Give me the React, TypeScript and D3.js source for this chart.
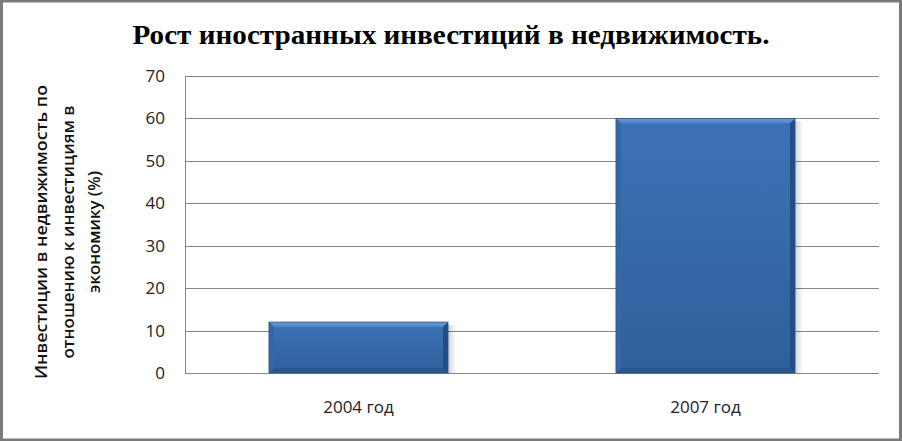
import React from "react";
import * as d3 from "d3";

const categories = ["2004 год", "2007 год"];
const values = [12, 60];
const yTicks = [0, 10, 20, 30, 40, 50, 60, 70];
const title = "Рост иностранных инвестиций в недвижимость.";
const yLabelLines = ["Инвестиции в недвижимость  по", "отношению к инвестициям в", "экономику (%)"];

const W = 902, H = 441;
const plot = { left: 185, right: 879, top: 76, bottom: 373 };

export default function App() {
  const x = d3.scaleBand<string>().domain(categories).range([plot.left, plot.right]).paddingInner(0.484).paddingOuter(0.242);
  const y = d3.scaleLinear().domain([0, 70]).range([plot.bottom, plot.top]);
  const bw = x.bandwidth();
  const bev = 5;
  return (
    <div style={{ position: "fixed", left: 0, top: 0 }}>
      <svg width={W} height={H} style={{ display: "block" }}>
        <defs>
          <linearGradient id="barG" x1="0" y1="0" x2="0" y2="1">
            <stop offset="0" stopColor="#3d73b6" />
            <stop offset="1" stopColor="#2f5f9c" />
          </linearGradient>
          <linearGradient id="topG" x1="0" y1="0" x2="0" y2="1">
            <stop offset="0" stopColor="#6c9de0" />
            <stop offset="1" stopColor="#4b80c4" />
          </linearGradient>
          <linearGradient id="shadowG" x1="0" y1="0" x2="1" y2="0">
            <stop offset="0" stopColor="#000" stopOpacity="0.18" />
            <stop offset="1" stopColor="#000" stopOpacity="0" />
          </linearGradient>
        </defs>
        <rect x={0} y={0} width={W} height={H} fill="#fff" />
        <rect x={1.5} y={1} width={W - 3} height={H - 2} fill="none" stroke="#7a7a7a" strokeWidth={3} />
        <text x={451} y={44} textAnchor="middle" fontFamily="'Liberation Serif', 'DejaVu Serif', serif" fontWeight="bold" fontSize={27} textLength={637} lengthAdjust="spacingAndGlyphs" fill="#000">{title}</text>
        {yTicks.map((t) => (
          <g key={t}>
            <line x1={plot.left} x2={plot.right} y1={Math.round(y(t)) + 0.5} y2={Math.round(y(t)) + 0.5} stroke="#868686" strokeWidth={1} />
            <text x={165} y={y(t) + 6} textAnchor="end" fontFamily="'Open Sans', 'Liberation Sans', sans-serif" fontSize={17} fill="#222">{t}</text>
          </g>
        ))}
        <line x1={plot.left + 0.5} x2={plot.left + 0.5} y1={plot.top} y2={plot.bottom} stroke="#868686" />
        {categories.map((c, i) => {
          const x0 = x(c)!;
          const x1 = x0 + bw;
          const y0 = y(values[i]);
          const y1 = y(0);
          return (
            <g key={c}>
              <rect x={x1} y={y0 + 3} width={8} height={y1 - y0 - 3} fill="url(#shadowG)" />
              <rect x={x0} y={y0} width={bw} height={y1 - y0} fill="url(#barG)" />
              <polygon points={`${x0},${y0} ${x1},${y0} ${x1 - bev},${y0 + bev} ${x0 + bev},${y0 + bev}`} fill="url(#topG)" />
              <polygon points={`${x0},${y0} ${x0 + bev},${y0 + bev} ${x0 + bev},${y1 - bev} ${x0},${y1}`} fill="#3467a8" />
              <polygon points={`${x1},${y0} ${x1 - bev},${y0 + bev} ${x1 - bev},${y1 - bev} ${x1},${y1}`} fill="#234d84" />
              <polygon points={`${x0},${y1} ${x0 + bev},${y1 - bev} ${x1 - bev},${y1 - bev} ${x1},${y1}`} fill="#2a5790" />
              <rect x={x0} y={y0} width={bw} height={y1 - y0} fill="none" stroke="#2a5389" strokeWidth={0.8} />
              <text x={x0 + bw / 2} y={413} textAnchor="middle" fontFamily="'Open Sans', 'Liberation Sans', sans-serif" fontSize={17} fill="#222">{c}</text>
            </g>
          );
        })}
        <g transform="translate(0,232) rotate(-90)">
          {yLabelLines.map((l, i) => (
            <text key={i} x={0} y={47 + i * 26.5} textAnchor="middle" fontFamily="'Open Sans', 'Liberation Sans', sans-serif" fontWeight="600" fontSize={17} fill="#111" textLength={[294, 253, 122][i]} lengthAdjust="spacingAndGlyphs">{l}</text>
          ))}
        </g>
      </svg>
    </div>
  );
}
